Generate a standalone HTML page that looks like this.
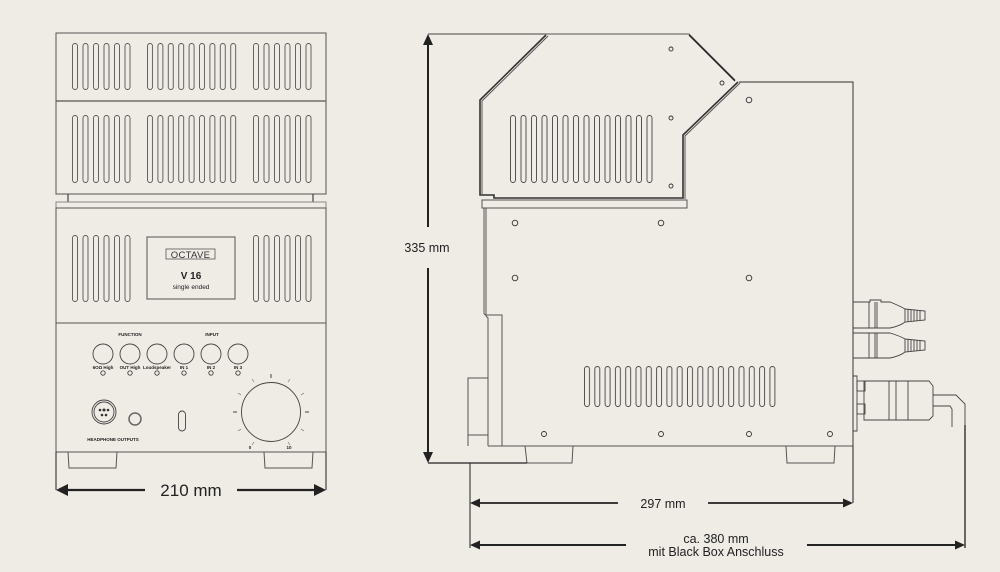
<!DOCTYPE html>
<html><head><meta charset="utf-8"><style>
html,body{margin:0;padding:0;background:#efebe5;}
svg{display:block;}
text{font-family:"Liberation Sans",sans-serif;}
</style></head><body>
<svg width="1000" height="572" viewBox="0 0 1000 572" xmlns="http://www.w3.org/2000/svg">
<defs>
<pattern id="pa" x="72" y="43" width="10.5" height="300" patternUnits="userSpaceOnUse"><rect x="0.5" y="0.5" width="5" height="46" rx="2.5" fill="none" stroke="#555" stroke-width="0.9"/></pattern>
<pattern id="pb" x="147" y="43" width="10.4" height="300" patternUnits="userSpaceOnUse"><rect x="0.5" y="0.5" width="5" height="46" rx="2.5" fill="none" stroke="#555" stroke-width="0.9"/></pattern>
<pattern id="pc" x="253" y="43" width="10.5" height="300" patternUnits="userSpaceOnUse"><rect x="0.5" y="0.5" width="5" height="46" rx="2.5" fill="none" stroke="#555" stroke-width="0.9"/></pattern>
<pattern id="qa" x="72" y="115" width="10.5" height="300" patternUnits="userSpaceOnUse"><rect x="0.5" y="0.5" width="5" height="67" rx="2.5" fill="none" stroke="#555" stroke-width="0.9"/></pattern>
<pattern id="qb" x="147" y="115" width="10.4" height="300" patternUnits="userSpaceOnUse"><rect x="0.5" y="0.5" width="5" height="67" rx="2.5" fill="none" stroke="#555" stroke-width="0.9"/></pattern>
<pattern id="qc" x="253" y="115" width="10.5" height="300" patternUnits="userSpaceOnUse"><rect x="0.5" y="0.5" width="5" height="67" rx="2.5" fill="none" stroke="#555" stroke-width="0.9"/></pattern>
<pattern id="ra" x="72" y="235" width="10.5" height="300" patternUnits="userSpaceOnUse"><rect x="0.5" y="0.5" width="5" height="66" rx="2.5" fill="none" stroke="#555" stroke-width="0.9"/></pattern>
<pattern id="rc" x="253" y="235" width="10.5" height="300" patternUnits="userSpaceOnUse"><rect x="0.5" y="0.5" width="5" height="66" rx="2.5" fill="none" stroke="#555" stroke-width="0.9"/></pattern>
<pattern id="sa" x="510" y="115" width="10.5" height="300" patternUnits="userSpaceOnUse"><rect x="0.5" y="0.5" width="5" height="67" rx="2.5" fill="none" stroke="#444" stroke-width="0.9"/></pattern>
<pattern id="sb" x="584" y="366" width="10.3" height="300" patternUnits="userSpaceOnUse"><rect x="0.5" y="0.5" width="5" height="40" rx="2.5" fill="none" stroke="#444" stroke-width="0.9"/></pattern>
</defs>

<!-- FRONT VIEW -->
<g fill="none" stroke="#555" stroke-width="1">
<rect x="56" y="33" width="270" height="161"/>
<line x1="56" y1="101" x2="326" y2="101" stroke-width="1.3"/>
<line x1="68" y1="194" x2="68" y2="202" stroke="#222"/>
<line x1="313" y1="194" x2="313" y2="202" stroke="#222"/>
<rect x="56" y="202" width="270" height="6" stroke="#888"/>
<rect x="56" y="208" width="270" height="115"/>
<rect x="56" y="323" width="270" height="129"/>
<line x1="56" y1="452" x2="56" y2="490" stroke="#222"/>
<line x1="326" y1="452" x2="326" y2="490" stroke="#222"/>
<path d="M68 452 L69 468 L116 468 L117 452"/>
<path d="M264 452 L265 468 L312 468 L313 452"/>
<rect x="147" y="237" width="88" height="62"/>
<rect x="166" y="249" width="49" height="10" stroke-width="0.8"/>
</g>
<rect x="72" y="43" width="63" height="48" fill="url(#pa)"/>
<rect x="147" y="43" width="90" height="48" fill="url(#pb)"/>
<rect x="253" y="43" width="63" height="48" fill="url(#pc)"/>
<rect x="72" y="115" width="63" height="69" fill="url(#qa)"/>
<rect x="147" y="115" width="90" height="69" fill="url(#qb)"/>
<rect x="253" y="115" width="63" height="69" fill="url(#qc)"/>
<rect x="72" y="235" width="63" height="68" fill="url(#ra)"/>
<rect x="253" y="235" width="63" height="68" fill="url(#rc)"/>
<text x="190.5" y="258" font-size="9.5" text-anchor="middle" fill="#333" letter-spacing="0.3">OCTAVE</text>
<text x="191" y="279" font-size="10" text-anchor="middle" fill="#222" font-weight="bold">V 16</text>
<text x="191" y="289" font-size="6.5" text-anchor="middle" fill="#222">single ended</text>
<g font-size="4.5" fill="#222" font-weight="bold" text-anchor="middle">
<text x="130" y="336">FUNCTION</text>
<text x="212" y="336">INPUT</text>
<text x="103" y="369">6OΩ High</text><text x="130" y="369">OUT High</text><text x="157" y="369">Loudspeaker</text>
<text x="184" y="369">IN 1</text><text x="211" y="369">IN 2</text><text x="238" y="369">IN 3</text>
<text x="113" y="441">HEADPHONE OUTPUTS</text>
<text x="250" y="449">0</text><text x="289" y="449">10</text>
</g>
<g fill="none" stroke="#444" stroke-width="0.9">
<circle cx="103" cy="354" r="10"/><circle cx="130" cy="354" r="10"/><circle cx="157" cy="354" r="10"/>
<circle cx="184" cy="354" r="10"/><circle cx="211" cy="354" r="10"/><circle cx="238" cy="354" r="10"/>
<circle cx="103" cy="373" r="2.2"/><circle cx="130" cy="373" r="2.2"/><circle cx="157" cy="373" r="2.2"/>
<circle cx="184" cy="373" r="2.2"/><circle cx="211" cy="373" r="2.2"/><circle cx="238" cy="373" r="2.2"/>
<circle cx="104" cy="412" r="12"/><circle cx="104" cy="412" r="10"/>
<circle cx="135" cy="419" r="6" stroke-width="1.5" stroke="#666"/>
<rect x="178.5" y="411" width="7" height="20" rx="3.5"/>
<circle cx="271" cy="412" r="29.5"/>
</g>
<g fill="#333"><circle cx="100" cy="410" r="1.3"/><circle cx="104" cy="410" r="1.5"/><circle cx="108" cy="410" r="1.3"/><circle cx="102" cy="415" r="1.3"/><circle cx="106" cy="415" r="1.3"/></g>
<g stroke="#444" stroke-width="1" transform="translate(271 412)">
<line x1="0" y1="-34" x2="0" y2="-38"/><line x1="-34" y1="0" x2="-38" y2="0"/><line x1="34" y1="0" x2="38" y2="0"/>
<g stroke-width="0.6" stroke="#666">
<line x1="17" y1="-30" x2="19" y2="-33"/><line x1="-17" y1="-30" x2="-19" y2="-33"/>
<line x1="30" y1="-17" x2="33" y2="-19"/><line x1="-30" y1="-17" x2="-33" y2="-19"/>
<line x1="30" y1="17" x2="33" y2="19"/><line x1="-30" y1="17" x2="-33" y2="19"/>
<line x1="17" y1="30" x2="19" y2="33"/><line x1="-17" y1="30" x2="-19" y2="33"/>
</g></g>

<!-- 210 dim -->
<g stroke="#222" stroke-width="2.2"><line x1="64" y1="490" x2="145" y2="490"/><line x1="237" y1="490" x2="318" y2="490"/></g>
<polygon points="56,490 68,484 68,496" fill="#222"/><polygon points="326,490 314,484 314,496" fill="#222"/>
<text x="191" y="496" font-size="17" text-anchor="middle" fill="#222">210 mm</text>

<!-- SIDE VIEW -->
<g fill="none" stroke="#555" stroke-width="1">
<path d="M428 34 L547 34" stroke="#666" stroke-width="1.3"/>
<path d="M547 34 L689 34 L735 80"/>
<path d="M546 35 L480 100 L480 195 L494 195 L494 198 L683 198 L683 135 L738 82" stroke-width="1.6" stroke="#333"/>
<path d="M548 36 L482 101 L482 194"/>
<path d="M689 35 L735 81" stroke="#222" stroke-width="1.3"/>
<path d="M685 199 L685 136 L740 83"/>
<path d="M739 82 L853 82 L853 446" stroke-width="1.2"/>
<rect x="482" y="200" width="205" height="8"/>
<path d="M484 208 L484 313 Q484 315 487 315 L502 315 L502 446"/>
<path d="M486 208 L486 316 L488 318 L488 446"/>
<line x1="488" y1="446" x2="853" y2="446"/>
<path d="M468 446 L468 378 L488 378 M468 435 L488 435"/>
<path d="M525 446 L527 463 L572 463 L573 446"/>
<path d="M786 446 L787 463 L834 463 L835 446"/>
<line x1="853" y1="446" x2="853" y2="503" stroke="#222"/>
<line x1="470" y1="463" x2="470" y2="548" stroke="#222"/>
<line x1="428" y1="463" x2="527" y2="463" stroke="#222" stroke-width="1.3"/>
</g>
<rect x="510" y="115" width="143" height="69" fill="url(#sa)"/>
<rect x="584" y="366" width="192" height="42" fill="url(#sb)"/>
<g fill="none" stroke="#333" stroke-width="0.9">
<circle cx="671" cy="49" r="2"/><circle cx="722" cy="83" r="2"/><circle cx="671" cy="118" r="2"/><circle cx="671" cy="186" r="2"/>
<circle cx="749" cy="100" r="2.8"/><circle cx="515" cy="223" r="2.8"/><circle cx="661" cy="223" r="2.8"/>
<circle cx="515" cy="278" r="2.8"/><circle cx="749" cy="278" r="2.8"/>
<circle cx="544" cy="434" r="2.5"/><circle cx="661" cy="434" r="2.5"/><circle cx="749" cy="434" r="2.5"/><circle cx="830" cy="434" r="2.5"/>
</g>
<!-- connectors -->
<g fill="none" stroke="#444" stroke-width="0.9">
<path d="M853 302 L870 302 L870 300 L881 300 L881 302 L890 302 Q900 306 905 309 L925 311 L925 320 L905 322 Q900 326 890 328 L853 328"/>
<line x1="869" y1="302" x2="869" y2="328"/><line x1="875" y1="302" x2="875" y2="328"/><line x1="877" y1="302" x2="877" y2="328"/>
<path d="M905 309 L905 322 M908 309 L908 322 M911 310 L911 321 M914 310 L914 321 M917 310 L917 321 M920 311 L920 320"/>
<path d="M853 333 L890 333 Q900 336 905 339 L925 341 L925 350 L905 352 Q900 356 890 358 L853 358"/>
<line x1="869" y1="333" x2="869" y2="358"/><line x1="875" y1="333" x2="875" y2="358"/><line x1="877" y1="333" x2="877" y2="358"/>
<path d="M905 339 L905 352 M908 339 L908 352 M911 340 L911 351 M914 340 L914 351 M917 340 L917 351 M920 341 L920 350"/>
<path d="M853 376 L857 376 L857 431 L853 431"/>
<rect x="857" y="381" width="8" height="10"/><rect x="857" y="404" width="8" height="10"/>
<path d="M864 381 L929 381 L933 386 L933 416 L929 420 L864 420 Z"/>
<line x1="889" y1="381" x2="889" y2="420"/><line x1="896" y1="381" x2="896" y2="420"/><line x1="908" y1="381" x2="908" y2="420"/>
<path d="M933 395 L956 395 L965 404 L965 425"/>
<path d="M933 406 L950 406 L952 409 L952 427"/>
</g>
<line x1="965" y1="425" x2="965" y2="548" stroke="#222" stroke-width="1.3"/>

<!-- 335 dim -->
<g stroke="#222" stroke-width="2"><line x1="428" y1="44" x2="428" y2="227"/><line x1="428" y1="268" x2="428" y2="453"/></g>
<polygon points="428,34 423,45 433,45" fill="#222"/><polygon points="428,463 423,452 433,452" fill="#222"/>
<text x="427" y="252" font-size="12.5" text-anchor="middle" fill="#222">335 mm</text>

<!-- 297 dim -->
<g stroke="#222" stroke-width="1.8"><line x1="478" y1="503" x2="618" y2="503"/><line x1="708" y1="503" x2="845" y2="503"/></g>
<polygon points="470,503 480,498.5 480,507.5" fill="#222"/><polygon points="853,503 843,498.5 843,507.5" fill="#222"/>
<text x="663" y="508" font-size="12.5" text-anchor="middle" fill="#222">297 mm</text>

<!-- 380 dim -->
<g stroke="#222" stroke-width="2"><line x1="478" y1="545" x2="626" y2="545"/><line x1="807" y1="545" x2="957" y2="545"/></g>
<polygon points="470,545 480,540.5 480,549.5" fill="#222"/><polygon points="965,545 955,540.5 955,549.5" fill="#222"/>
<text x="716" y="543" font-size="12.5" text-anchor="middle" fill="#222">ca. 380 mm</text>
<text x="716" y="556" font-size="12.5" text-anchor="middle" fill="#222">mit Black Box Anschluss</text>
</svg>
</body></html>
